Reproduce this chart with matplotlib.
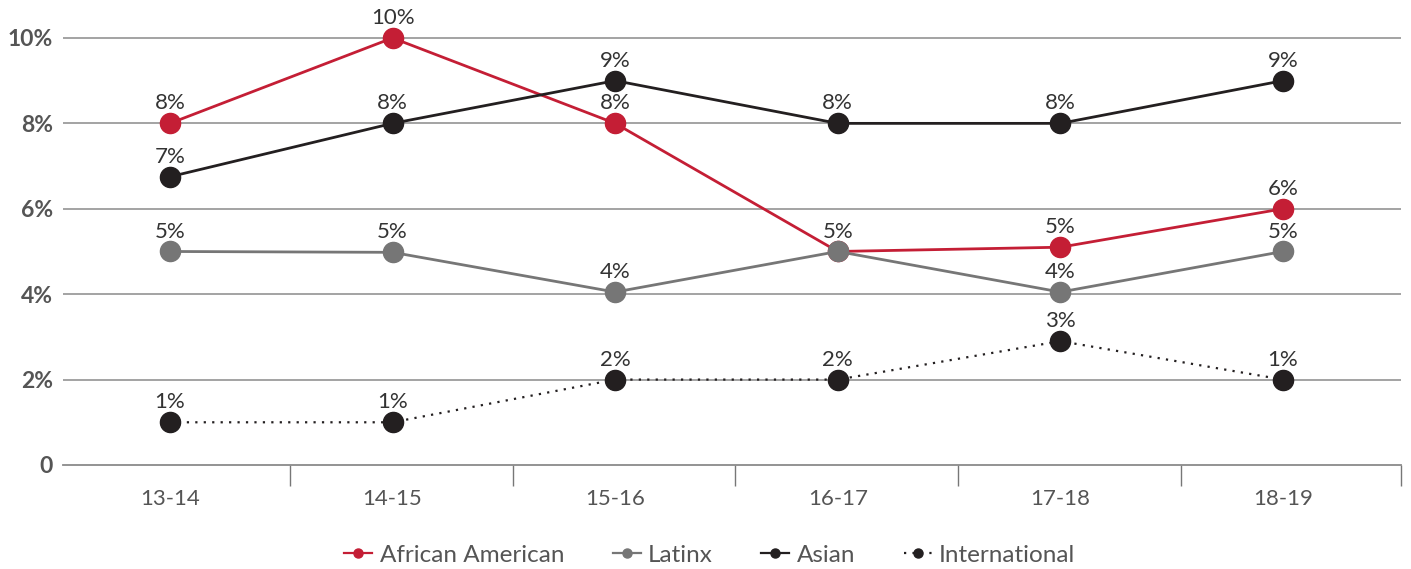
import matplotlib
matplotlib.use("Agg")
import matplotlib.pyplot as plt
from matplotlib.lines import Line2D

years = ["13-14", "14-15", "15-16", "16-17", "17-18", "18-19"]

african_american = [8.0, 10.0, 8.0, 5.0, 5.1, 6.0]
latinx = [5.0, 4.98, 4.05, 5.0, 4.05, 5.0]
asian = [6.75, 8.0, 9.0, 8.0, 8.0, 9.0]
international = [1.0, 1.0, 2.0, 2.0, 2.9, 2.0]

african_american_labels = ["8%", "10%", "8%", "5%", "5%", "6%"]
latinx_labels = ["5%", "5%", "4%", "5%", "4%", "5%"]
asian_labels = ["7%", "8%", "9%", "8%", "8%", "9%"]
international_labels = ["1%", "1%", "2%", "2%", "3%", "1%"]

y_ticks = [0, 2, 4, 6, 8, 10]
y_tick_labels = ["0", "2%", "4%", "6%", "8%", "10%"]

RED = "#C41E35"
GRAY = "#767676"
BLACK = "#231F20"

plt.rcParams["font.family"] = ["Lato", "DejaVu Sans"]

fig = plt.figure(figsize=(14.11, 5.69), dpi=100)
ax = fig.add_axes([0.0447, 0.1828, 0.9482, 0.788])

x = list(range(len(years)))

series = [
    (african_american, african_american_labels, RED, "-", "African American"),
    (latinx, latinx_labels, GRAY, "-", "Latinx"),
    (asian, asian_labels, BLACK, "-", "Asian"),
    (international, international_labels, BLACK, (0, (1, 2.8)), "International"),
]

drawn = set()
for i, (vals, labels, color, ls, name) in enumerate(series):
    lw = 1.6 if name == "International" else 2.0
    ax.plot(x, vals, color=color, linestyle=ls, linewidth=lw, zorder=3 + i)
    ax.plot(x, vals, linestyle="none", marker="o", markersize=14.5,
            color=color, zorder=3 + i)
    for xi, v, lab in zip(x, vals, labels):
        # overlapping points share one label
        if (xi, v, lab) in drawn:
            continue
        drawn.add((xi, v, lab))
        ax.annotate(lab, (xi, v), xytext=(0, 10), textcoords="offset points",
                    ha="center", va="baseline", fontsize=16, color="#333333",
                    fontweight="normal", zorder=10)

ax.set_xlim(-0.48, 5.53)
ax.set_ylim(0, 10.5)

# gridlines
for yv in y_ticks[1:]:
    ax.axhline(yv, color="#8a8a8a", linewidth=1.1, zorder=1)

for s in ["top", "right", "left"]:
    ax.spines[s].set_visible(False)
ax.spines["bottom"].set_color("#8a8a8a")
ax.spines["bottom"].set_linewidth(1.3)

ax.set_yticks(y_ticks)
ax.set_yticklabels(y_tick_labels, fontsize=16.5, fontweight="bold", color="#555555")
ax.tick_params(axis="y", length=0, pad=7.5)

ax.set_xticks(x)
ax.set_xticklabels(years, fontsize=16, color="#555555")
ax.tick_params(axis="x", which="major", length=0, pad=17)

sep = [i + 0.54 for i in range(5)] + [5.53]
ax.set_xticks(sep, minor=True)
ax.tick_params(axis="x", which="minor", length=15, width=1.0, color="#777777")

handles = []
for vals, labels, color, ls, name in series:
    handles.append(Line2D([0], [0], color=color, linestyle=ls,
                          linewidth=1.6, marker="o", markersize=6.5, label=name))
leg = fig.legend(handles=handles, loc="center", bbox_to_anchor=(0.503, 0.024),
                 ncol=4, frameon=False, fontsize=17.5, handlelength=1.15,
                 handletextpad=0.3, columnspacing=2.0)
for t in leg.get_texts():
    t.set_color("#555555")

fig.savefig("out.png", dpi=100)
